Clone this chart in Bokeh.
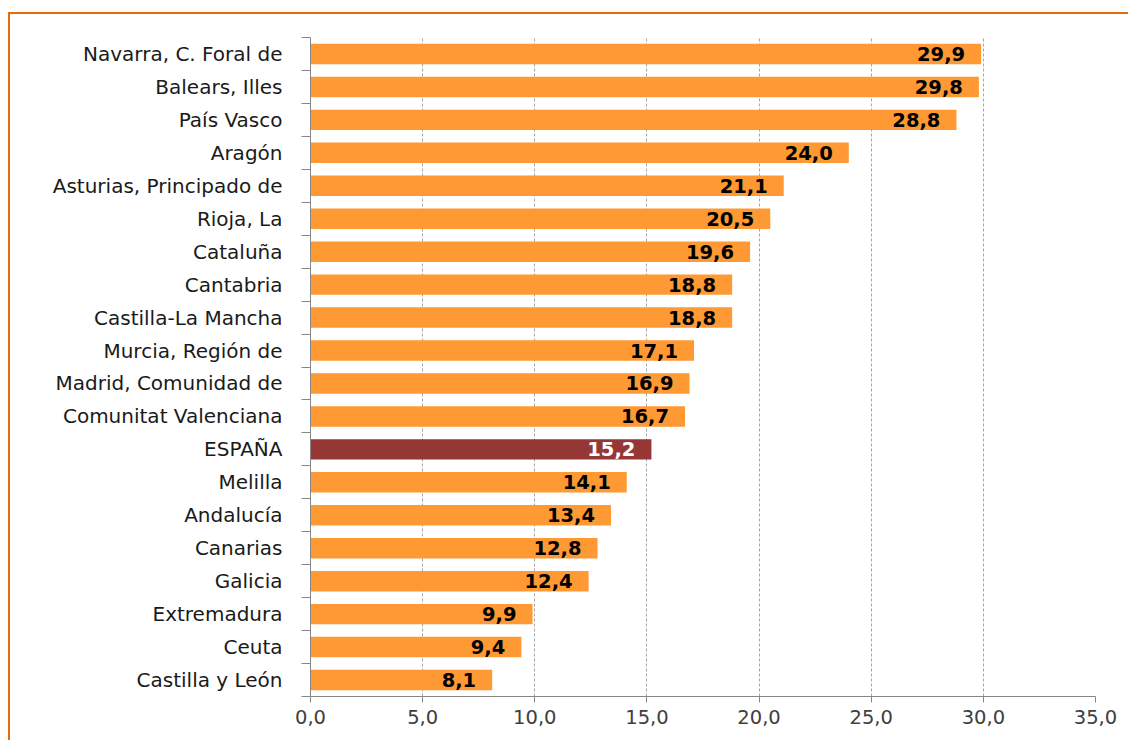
from bokeh.plotting import figure
from bokeh.models import Range1d, FixedTicker, LinearAxis, ColumnDataSource
from bokeh.core.properties import value
from bokeh.embed import file_html
from bokeh.resources import INLINE

# Data (top to bottom as in the reference)
regions = [
    "Navarra, C. Foral de", "Balears, Illes", "País Vasco", "Aragón",
    "Asturias, Principado de", "Rioja, La", "Cataluña", "Cantabria",
    "Castilla-La Mancha", "Murcia, Región de", "Madrid, Comunidad de",
    "Comunitat Valenciana", "ESPAÑA", "Melilla", "Andalucía", "Canarias",
    "Galicia", "Extremadura", "Ceuta", "Castilla y León",
]
values = [29.9, 29.8, 28.8, 24.0, 21.1, 20.5, 19.6, 18.8, 18.8, 17.1, 16.9,
          16.7, 15.2, 14.1, 13.4, 12.8, 12.4, 9.9, 9.4, 8.1]
x_ticks = [0, 5, 10, 15, 20, 25, 30, 35]
x_tick_labels = ["0,0", "5,0", "10,0", "15,0", "20,0", "25,0", "30,0", "35,0"]
highlight = "ESPAÑA"

ORANGE = "#FF9933"
DARKRED = "#953735"
AXIS = "#868686"
FONT = "DejaVu Sans"

n = len(regions)
ypos = [n - 1 - i for i in range(n)]
colors = [DARKRED if r == highlight else ORANGE for r in regions]
text_colors = ["white" if r == highlight else "black" for r in regions]
labels = [f"{v:.1f}".replace(".", ",") for v in values]

src = ColumnDataSource(dict(y=ypos, v=values, c=colors, tc=text_colors, lab=labels))

p = figure(width=1120, height=728, output_backend="svg", toolbar_location=None,
           x_range=Range1d(0, 35), y_range=Range1d(-0.5, n - 0.5),
           min_border_left=300, min_border_right=35, min_border_top=23,
           min_border_bottom=46)
p.margin = (12, 0, 0, 8)
p.styles = {"border-top": "2px solid #E46C0A", "border-left": "2px solid #E46C0A"}
p.outline_line_color = None
p.background_fill_color = "white"
p.border_fill_color = "white"

p.hbar(y="y", right="v", left=0, height=0.62, fill_color="c", line_color=None, source=src)
p.text(x="v", y="y", text="lab", text_color="tc", source=src, text_align="right",
       text_baseline="middle", x_offset=-16, text_font=value(FONT),
       text_font_size="19.5px", text_font_style="bold")

# x axis
xa = p.xaxis[0]
xa.ticker = FixedTicker(ticks=x_ticks)
xa.major_label_overrides = {t: l for t, l in zip(x_ticks, x_tick_labels)}
xa.axis_line_color = AXIS
xa.major_tick_line_color = AXIS
xa.major_tick_in = 0
xa.major_tick_out = 6
xa.minor_tick_line_color = None
xa.major_label_text_font = FONT
xa.major_label_text_font_size = "19.5px"
xa.major_label_text_color = "#404040"
xa.major_label_standoff = 7

# y axis: boundary ticks (inner)
bounds = [i - 0.5 for i in range(n + 1)]
ya = p.yaxis[0]
ya.ticker = FixedTicker(ticks=bounds)
ya.major_label_overrides = {b: "" for b in bounds}
ya.major_label_standoff = 0
ya.axis_line_color = AXIS
ya.major_tick_line_color = AXIS
ya.major_tick_in = 0
ya.major_tick_out = 9
ya.minor_tick_line_color = None

# y axis: category labels (outer)
yl = LinearAxis(ticker=FixedTicker(ticks=ypos),
                major_label_overrides={y: r for y, r in zip(ypos, regions)})
yl.axis_line_color = None
yl.major_tick_line_color = None
yl.minor_tick_line_color = None
yl.major_label_text_font = FONT
yl.major_label_text_font_size = "20px"
yl.major_label_text_color = "#1a1a1a"
yl.major_label_standoff = 13
p.add_layout(yl, "left")

p.ygrid.grid_line_color = None
p.xgrid.ticker = FixedTicker(ticks=x_ticks[1:])
p.xgrid.grid_line_color = "#A6A6A6"
p.xgrid.grid_line_dash = "3 2"

open("out.html", "w").write(file_html(p, INLINE))
